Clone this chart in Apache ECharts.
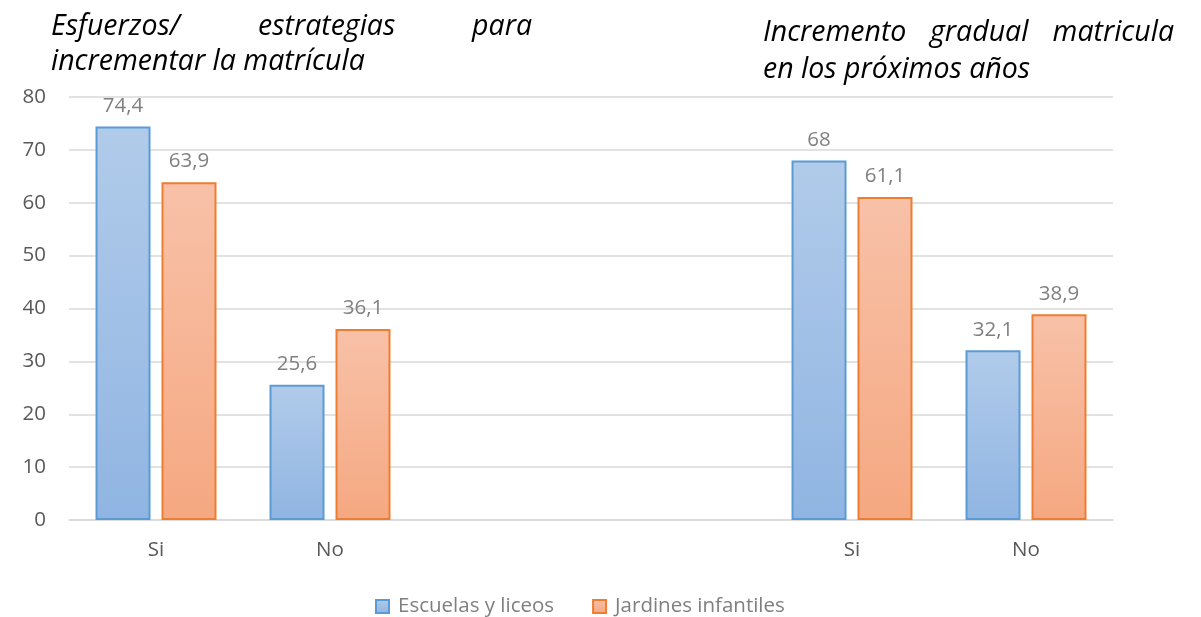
<!DOCTYPE html>
<html>
<head>
<meta charset="utf-8">
<script src="https://cdn.jsdelivr.net/npm/echarts@6/dist/echarts.min.js"></script>
<style>
html,body{margin:0;padding:0;background:#fff;}
#main{width:1201px;height:617px;}
</style>
</head>
<body>
<div id="main"></div>
<script>
var categories = ['Si', 'No', '', '', 'Si', 'No'];
var seriesNames = ['Escuelas y liceos', 'Jardines infantiles'];
var escuelas = [74.4, 25.6, null, null, 68, 32.1];
var jardines = [63.9, 36.1, null, null, 61.1, 38.9];
var yTicks = { min: 0, max: 80, interval: 10 };

var FONT = '"Open Sans", sans-serif';
var FS = 20.5;

function grad(top, bottom) {
  return new echarts.graphic.LinearGradient(0, 0, 0, 1, [
    { offset: 0, color: top },
    { offset: 1, color: bottom }
  ]);
}

var labelCfg = {
  show: true,
  position: 'top',
  distance: 10,
  color: '#808080',
  fontSize: FS,
  fontFamily: FONT,
  formatter: function (p) { return p.value == null ? '' : String(p.value).replace('.', ','); }
};

var titleStyle = { fontSize: 28.5, fontStyle: 'italic', fontFamily: FONT, fill: '#000' };

function t(x, y, s, align) {
  return { type: 'text', x: x, y: y, style: Object.assign({ text: s, textAlign: align || 'left', textVerticalAlign: 'middle' }, titleStyle) };
}

var chart = echarts.init(document.getElementById('main'));
chart.setOption({
  animation: false,
  grid: { left: 69, right: 88, top: 97, bottom: 97, containLabel: false },
  legend: {
    top: 596,
    left: 375,
    padding: 0,
    itemWidth: 13,
    itemHeight: 13,
    itemGap: 38,
    textStyle: { color: '#7f7f7f', fontSize: FS, fontFamily: FONT, padding: [0, 0, 0, 4] },
    data: [
      { name: seriesNames[0], icon: 'rect' },
      { name: seriesNames[1], icon: 'rect' }
    ]
  },
  xAxis: {
    type: 'category',
    data: categories,
    axisLine: { lineStyle: { color: '#d9d9d9', width: 1.5 } },
    axisTick: { show: false },
    axisLabel: { color: '#595959', fontSize: FS, fontFamily: FONT, margin: 20 }
  },
  yAxis: {
    type: 'value',
    min: yTicks.min,
    max: yTicks.max,
    interval: yTicks.interval,
    axisLine: { show: false },
    axisTick: { show: false },
    splitLine: { lineStyle: { color: '#d9d9d9', width: 1.5 } },
    axisLabel: { color: '#595959', fontSize: FS, fontFamily: FONT, margin: 23 }
  },
  series: [
    {
      name: seriesNames[0],
      type: 'bar',
      data: escuelas,
      barWidth: '31.6%',
      barGap: '20%',
      itemStyle: { color: grad('#B1CBEA', '#90B5E2'), borderColor: '#5B9BD5', borderWidth: 2 },
      label: labelCfg
    },
    {
      name: seriesNames[1],
      type: 'bar',
      data: jardines,
      barWidth: '31.6%',
      itemStyle: { color: grad('#F8C1A8', '#F5A881'), borderColor: '#ED7D31', borderWidth: 2 },
      label: labelCfg
    }
  ],
  graphic: [
    t(51, 27, 'Esfuerzos/'),
    t(258, 27, 'estrategias'),
    t(532, 27, 'para', 'right'),
    t(51, 62, 'incrementar la matrícula'),
    t(763, 33, 'Incremento'),
    t(930, 33, 'gradual'),
    t(1174, 33, 'matricula', 'right'),
    t(763, 70, 'en los próximos años')
  ]
});
</script>
</body>
</html>
